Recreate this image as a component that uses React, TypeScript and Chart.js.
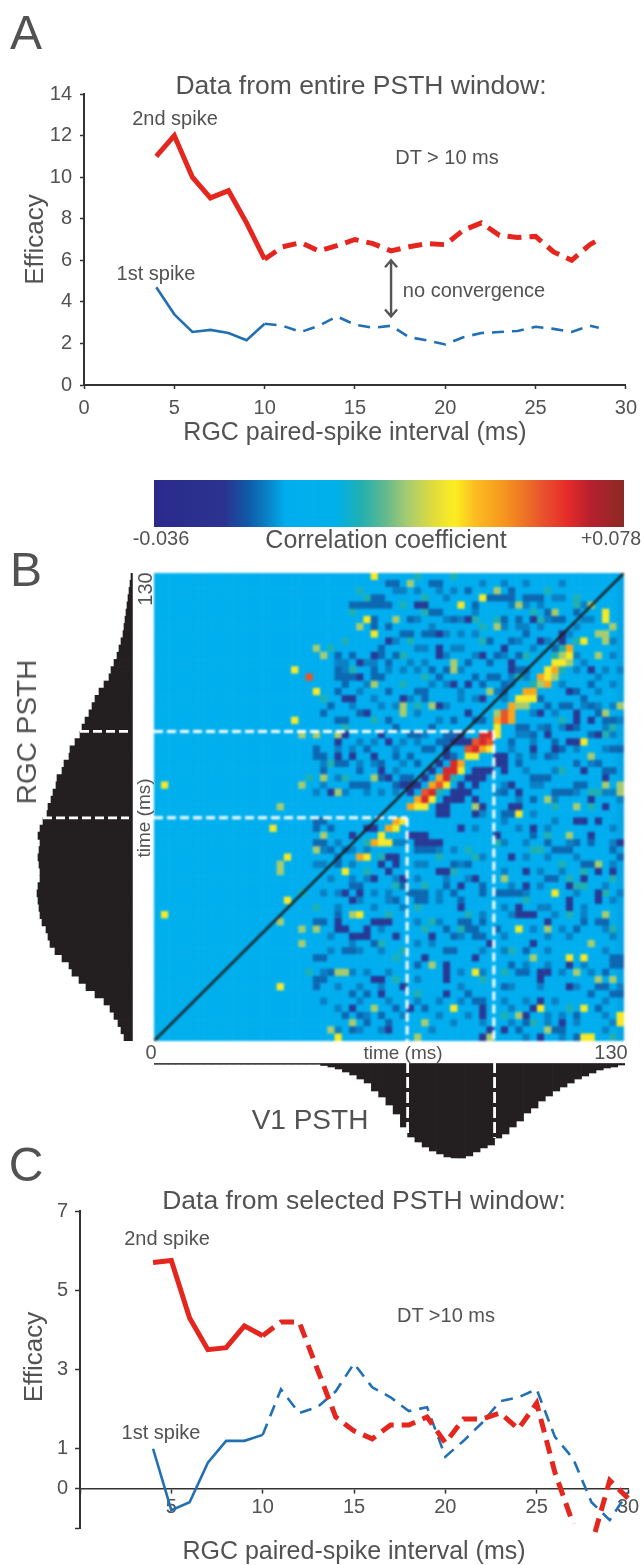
import React, { useEffect, useRef } from "react";
import { Chart, registerables } from "chart.js";

Chart.register(...registerables);

const FONT = "'Liberation Sans', sans-serif";
const TEXT = "#525252";
const AXIS = "#333333";
const RED = "#e4261f";
const BLUE = "#2270b4";
const INK = "#231f20";
Chart.defaults.font.family = FONT;
Chart.defaults.color = TEXT;

// Panel A
const intervalsA = [4, 5, 6, 7, 8, 9, 10, 11, 12, 13, 14, 15, 16, 17, 18, 19, 20, 21, 22, 23, 24, 25, 26, 27, 28, 28.5];
const secondSpikeA = [11, 12, 10, 9, 9.35, 7.8, 6.05, 6.65, 6.85, 6.45, 6.7, 7, 6.8, 6.45, 6.65, 6.8, 6.75, 7.45, 7.8, 7.2, 7.1, 7.15, 6.4, 6, 6.75, 7];
const firstSpikeA = [4.7, 3.4, 2.55, 2.65, 2.5, 2.15, 2.95, 2.85, 2.55, 2.85, 3.3, 2.9, 2.75, 2.85, 2.3, 2.15, 1.95, 2.3, 2.5, 2.55, 2.6, 2.8, 2.7, 2.55, 2.85, 2.75];
const arrowA = { x: 17, from: 3.3, to: 6 };

// Panel C
const intervalsCFirst = [4, 5, 6, 7, 8, 9, 10, 11, 12, 13, 14, 15, 16, 17, 18, 19, 20, 21, 22, 23, 24, 25, 26, 27, 28, 29, 30];
const firstSpikeC = [1, -0.55, -0.35, 0.65, 1.2, 1.2, 1.35, 2.5, 1.9, 2.05, 2.45, 3.15, 2.55, 2.3, 1.95, 2.05, 0.8, 1.2, 1.65, 2.2, 2.3, 2.5, 1.3, 0.75, -0.35, -0.8, -0.1];
const intervalsCSecond = [4, 5, 6, 7, 8, 9, 10, 11, 12, 13, 14, 15, 16, 17, 18, 19, 20, 21, 22, 23, 24, 25, 26, 27, 27.6, 28.2, 29, 30];
const secondSpikeC = [5.7, 5.75, 4.3, 3.5, 3.55, 4.1, 3.85, 4.2, 4.2, 3, 1.8, 1.45, 1.25, 1.6, 1.6, 1.8, 1.15, 1.75, 1.75, 1.9, 1.5, 2.15, 0.4, -0.9, null, -1.1, 0.2, -0.25];
const ticksYC = [-1, 0, 1, 3, 5, 7];

// Colour scale
const scaleMin = -0.036;
const scaleMax = 0.078;
const colourStops: [number, string][] = [
  [0, "#2b2a8c"], [0.15, "#2b3390"], [0.2, "#0f5aa8"], [0.24, "#0a80c4"], [0.28, "#00aeef"], [0.39, "#00b0e8"],
  [0.44, "#20b0b0"], [0.49, "#60b890"], [0.54, "#a8cc70"], [0.6, "#e6de38"], [0.64, "#fcee21"], [0.68, "#fbbf20"],
  [0.75, "#f5921e"], [0.83, "#e8502c"], [0.88, "#e52b2a"], [0.93, "#b5202e"], [1, "#8b2a24"],
];

// Window bounds (ms)
const windowRGC = [62, 86];
const windowV1 = [70, 94];

// PSTHs, 2 ms bins
const rgcTimes = Array.from({ length: 65 }, (_, i) => 129 - i * 2);
const rgcPsth = [1, 2, 3, 4, 5, 6, 7, 8, 9, 11, 13, 15, 18, 21, 23, 28, 33, 37, 40, 43, 47, 50, 52, 57, 62, 63, 68, 70, 75, 76, 79, 81, 84, 85, 89, 92, 94, 92, 93, 94, 93, 92, 92, 94, 95, 94, 93, 92, 90, 86, 84, 82, 77, 70, 63, 60, 53, 46, 37, 28, 22, 18, 14, 11, 8];
const v1Times = Array.from({ length: 65 }, (_, i) => 1 + i * 2);
const v1Psth = [0, 0, 0, 0, 0, 0, 0, 0, 0, 0, 0, 0, 0, 0, 0, 0, 0, 0, 0, 0, 0, 0, 0, 1.5, 3, 5, 8, 11, 15, 19, 27, 33, 41, 50, 63, 73, 78, 83, 87, 90, 93, 94, 94, 92, 88, 84, 81, 74, 70, 63, 57, 49, 44, 37, 32, 27, 23, 19, 15, 12, 9, 6, 4, 3, 1];

// Correlation matrix: 65 x 65 bins, cells read as [column, row from top]
const columnBase = [0, 0, 0, 0, 0, 0, 0, 0, 0, 0, 0, 0, 0, -0.002, -0.003, -0.004, -0.003, -0.004, -0.004, -0.004, -0.004, -0.004, -0.004, -0.004, -0.004, -0.004, -0.004, -0.004, -0.004, -0.004, -0.004, -0.004, -0.004, -0.004, -0.004, -0.004, -0.004, -0.004, -0.004, -0.004, -0.004, -0.004, -0.004, -0.004, -0.004, -0.004, -0.004, -0.004, -0.004, -0.004, -0.004, -0.004, -0.004, -0.004, -0.004, -0.004, -0.004, -0.004, -0.004, -0.004, -0.004, -0.004, -0.004, -0.004, -0.005];

const shadeCells = [[33,2],[34,2],[36,2],[39,2],[40,3],[41,2],[40,6],[42,6],[36,6],[38,7],[40,8],[42,8],[33,9],[36,10],[37,10],[41,10],[25,12],[26,12],[29,12],[35,12],[37,12],[40,11],[42,10],[26,13],[30,12],[32,13],[34,13],[36,13],[42,13],[29,15],[28,16],[38,15],[40,15],[42,16],[30,17],[35,17],[24,18],[27,18],[31,18],[33,18],[40,18],[42,17],[28,19],[36,19],[39,20],[28,23],[30,23],[34,23],[36,23],[37,22],[25,24],[27,24],[33,24],[23,26],[28,26],[30,26],[34,26],[36,26],[25,28],[28,27],[33,27],[23,29],[22,30],[26,30],[29,30],[31,30],[33,30],[45,1],[48,1],[51,1],[56,1],[45,3],[55,3],[56,3],[59,4],[49,4],[51,4],[53,4],[44,5],[50,7],[54,6],[59,6],[48,7],[51,7],[53,7],[58,7],[60,6],[44,8],[50,9],[54,9],[57,8],[63,9],[44,11],[48,11],[52,10],[58,11],[59,12],[63,11],[49,14],[51,14],[58,13],[62,13],[64,13],[56,15],[61,14],[47,16],[49,15],[61,16],[63,15],[44,17],[48,17],[53,17],[59,18],[63,18],[52,19],[55,19],[61,18],[62,21],[51,22],[53,21],[56,21],[64,20],[50,22],[52,23],[63,22],[55,25],[58,24],[49,24],[62,24],[50,25],[52,25],[54,25],[60,26],[53,29],[55,27],[51,27],[48,29],[52,29],[58,30],[62,30],[63,30],[47,30],[50,31],[55,31],[64,31],[23,38],[25,37],[27,38],[29,38],[34,37],[33,37],[39,38],[41,38],[22,40],[23,40],[27,40],[36,40],[37,40],[42,40],[24,42],[27,42],[29,42],[33,42],[36,42],[40,42],[43,42],[23,44],[25,44],[30,44],[32,44],[39,44],[25,46],[28,45],[30,46],[32,45],[34,46],[39,45],[36,48],[24,50],[39,48],[31,49],[27,51],[36,51],[42,50],[24,52],[28,52],[31,52],[38,51],[23,55],[27,55],[29,55],[32,55],[42,55],[25,57],[28,57],[31,57],[36,56],[42,57],[23,59],[25,60],[28,59],[32,59],[36,59],[39,59],[42,59],[29,61],[39,61],[34,61],[25,63],[28,63],[31,63],[38,63],[41,62],[43,61],[45,33],[52,33],[55,34],[48,34],[50,35],[54,35],[63,35],[44,35],[48,37],[51,37],[57,37],[63,37],[45,39],[51,39],[54,39],[58,39],[48,41],[53,41],[56,41],[63,40],[49,43],[53,43],[62,43],[51,44],[58,44],[64,44],[48,46],[53,46],[54,46],[59,46],[63,45],[45,47],[49,47],[55,47],[59,47],[52,49],[56,49],[62,49],[48,50],[54,50],[57,50],[63,50],[45,52],[48,52],[54,52],[62,52],[51,54],[54,54],[59,54],[45,55],[56,55],[60,55],[49,57],[53,57],[58,57],[64,57],[48,59],[51,59],[55,59],[62,59],[49,60],[54,61],[56,61],[62,61],[45,62],[49,62],[54,62],[58,62],[63,62],[51,64],[56,64],[62,63]];
const mediumCells = [[33,1],[32,1],[38,1],[39,1],[43,2],[27,4],[28,4],[29,4],[30,4],[31,4],[32,4],[29,3],[30,3],[31,3],[38,5],[39,5],[41,6],[35,6],[30,6],[32,7],[30,7],[34,8],[35,8],[37,8],[38,8],[31,10],[31,11],[32,12],[33,11],[25,11],[27,11],[25,13],[26,14],[25,14],[27,14],[26,15],[25,16],[38,13],[40,13],[39,14],[37,16],[37,17],[36,16],[43,12],[32,16],[31,14],[30,14],[30,13],[23,19],[25,20],[26,20],[32,20],[41,20],[41,22],[40,22],[36,22],[35,22],[39,23],[40,23],[37,24],[38,24],[22,24],[22,25],[23,25],[25,26],[26,26],[31,26],[23,27],[31,28],[34,28],[35,28],[27,29],[28,29],[29,29],[33,29],[44,4],[46,3],[47,3],[48,3],[49,2],[49,3],[51,3],[52,3],[53,3],[54,5],[48,6],[50,6],[55,6],[56,6],[58,5],[49,9],[50,11],[47,11],[46,12],[50,13],[51,13],[44,14],[46,14],[47,14],[45,15],[48,15],[58,16],[60,15],[54,18],[56,18],[57,18],[60,18],[44,20],[45,20],[50,21],[51,21],[54,21],[58,21],[62,20],[55,23],[56,24],[63,24],[64,24],[49,23],[50,26],[61,26],[53,28],[54,28],[55,30],[56,30],[62,27],[58,29],[59,29],[52,31],[22,34],[23,34],[22,35],[24,35],[23,37],[24,38],[22,37],[25,39],[25,40],[26,38],[36,38],[37,38],[38,38],[41,40],[39,39],[36,44],[35,44],[37,44],[34,43],[33,45],[27,43],[28,43],[23,48],[22,48],[25,47],[30,51],[26,52],[27,52],[36,54],[41,52],[40,52],[22,53],[23,53],[24,55],[22,56],[23,56],[22,57],[27,58],[29,58],[36,58],[43,58],[37,60],[26,61],[31,61],[32,62],[33,60],[28,61],[27,63],[29,62],[48,33],[49,33],[58,37],[60,37],[52,36],[54,37],[55,38],[56,38],[57,38],[59,40],[60,40],[47,44],[48,44],[49,44],[50,44],[45,43],[45,44],[54,42],[55,42],[63,38],[64,39],[44,49],[45,48],[44,50],[45,50],[59,48],[58,49],[61,48],[62,48],[47,49],[51,52],[63,53],[64,53],[63,54],[64,54],[62,55],[49,54],[50,55],[51,55],[48,57],[61,57],[62,57],[44,59],[45,59],[60,58],[63,58],[64,58],[51,62],[61,60],[58,61],[58,64],[55,63],[56,63],[50,63],[43,40],[40,43],[41,44],[42,45],[36,45],[37,45],[43,48],[42,48],[40,49],[41,50],[43,49],[24,18],[28,19],[33,21],[38,21],[29,24],[33,25],[36,26],[41,25],[28,27],[35,25],[46,9],[51,8],[55,10],[48,16],[53,17],[59,17],[61,19],[52,22],[60,22],[63,20],[54,25],[58,26],[63,27],[52,28],[57,30],[48,30]];
const navyCells = [[37,4],[36,4],[39,8],[39,10],[39,11],[32,9],[30,11],[28,12],[28,14],[41,15],[43,6],[27,17],[26,17],[29,19],[39,18],[34,17],[32,23],[31,22],[27,25],[30,25],[31,27],[32,28],[24,30],[25,25],[25,23],[26,22],[43,15],[43,19],[39,26],[38,27],[37,28],[36,29],[35,30],[34,29],[35,29],[40,24],[40,25],[41,23],[42,22],[43,23],[42,23],[42,29],[43,28],[41,30],[42,30],[40,31],[41,31],[43,30],[42,31],[48,10],[45,11],[53,9],[56,8],[56,9],[52,6],[49,12],[49,13],[60,13],[57,16],[45,17],[53,19],[58,19],[58,20],[60,20],[54,22],[57,21],[61,22],[57,23],[58,23],[52,24],[55,24],[47,25],[48,25],[47,26],[48,26],[48,27],[45,27],[46,27],[45,28],[44,29],[49,29],[50,30],[59,27],[44,31],[60,31],[49,32],[50,32],[45,32],[62,28],[44,27],[44,28],[37,36],[36,36],[37,37],[36,37],[38,37],[39,37],[35,36],[40,32],[39,32],[40,33],[39,33],[42,35],[29,35],[30,35],[27,36],[33,39],[32,39],[33,40],[31,40],[32,41],[34,42],[30,42],[39,41],[40,41],[37,43],[42,43],[28,44],[26,44],[27,45],[42,46],[25,48],[26,49],[25,49],[27,50],[28,50],[29,49],[29,50],[30,48],[31,48],[32,48],[33,50],[38,50],[37,53],[38,54],[40,54],[40,55],[40,56],[34,57],[31,58],[40,58],[27,60],[35,60],[32,63],[30,56],[31,56],[44,33],[58,34],[59,34],[61,34],[52,35],[60,36],[47,36],[64,37],[49,39],[51,41],[61,41],[63,41],[44,42],[59,42],[51,43],[57,43],[61,44],[61,45],[57,45],[57,46],[50,46],[50,47],[51,47],[52,47],[54,48],[46,51],[52,51],[44,53],[57,54],[53,55],[54,55],[53,56],[57,57],[45,60],[45,61],[53,59],[52,60],[48,63],[46,63],[53,64],[45,64],[56,62],[51,61],[62,32]];
const tealCells = [[36,0],[41,0],[28,2],[29,3],[37,3],[27,5],[37,5],[26,9],[24,10],[35,9],[27,13],[34,4],[34,11],[37,14],[36,18],[23,17],[30,20],[26,21],[24,26],[26,28],[21,28],[34,15],[53,6],[52,5],[58,3],[58,4],[54,2],[45,7],[45,9],[50,14],[51,11],[47,6],[56,20],[63,21],[62,22],[56,27],[60,32],[60,30],[61,30],[44,6],[33,43],[36,58],[33,56],[33,53],[38,48],[42,49],[43,47],[36,46],[31,39],[39,39],[34,52],[31,51],[32,47],[37,49],[41,41],[43,38],[20,44],[22,46],[21,55],[37,43],[29,41],[53,38],[52,38],[44,39],[54,36],[57,42],[58,43],[59,43],[57,47],[51,45],[63,49],[49,52],[48,55],[45,56],[57,60],[48,61],[52,62],[56,40],[59,41],[63,42],[62,44],[47,37],[55,32],[63,64],[29,37],[47,19],[58,9],[56,10],[55,11],[56,13],[52,15],[39,30],[41,28]];
const greenCells = [[35,1],[28,7],[33,6],[22,10],[23,11],[30,15],[38,18],[34,18],[34,19],[41,13],[41,12],[20,22],[22,22],[25,22],[19,20],[23,28],[20,29],[25,30],[30,28],[47,2],[50,4],[55,5],[47,7],[60,4],[63,7],[61,8],[62,8],[62,9],[61,11],[46,16],[64,18],[62,19],[60,25],[62,29],[64,30],[54,31],[44,32],[64,29],[56,11],[55,14],[57,12],[23,36],[22,38],[17,32],[17,41],[17,40],[18,45],[17,48],[20,49],[27,47],[22,49],[20,51],[25,55],[26,55],[30,60],[27,62],[24,63],[37,62],[38,54],[36,64],[57,36],[61,40],[62,47],[54,49],[52,53],[48,42],[61,56],[63,56],[58,55],[54,63],[46,64],[58,32],[60,51],[50,61],[50,18],[51,18],[53,15],[47,19]];
const yellowCells = [[30,0],[42,4],[29,6],[30,8],[22,16],[1,29],[1,47],[16,35],[18,39],[19,13],[19,20],[18,45],[17,57],[45,3],[62,5],[62,6],[59,9],[57,11],[55,12],[56,12],[54,13],[54,14],[50,17],[51,17],[52,17],[47,21],[47,22],[46,24],[44,25],[43,25],[42,27],[40,29],[38,31],[36,32],[37,32],[34,34],[33,35],[31,36],[31,37],[32,37],[29,39],[26,41],[28,47],[59,23],[50,33],[55,44],[50,49],[57,53],[59,53],[44,55],[59,60],[53,60],[64,61],[64,62],[59,64],[60,64],[41,60],[25,64]];
const orangeCells = [[57,10],[53,14],[55,13],[54,15],[51,16],[52,16],[49,18],[49,19],[47,20],[49,20],[45,24],[42,26],[39,28],[38,29],[36,31],[35,32],[33,34],[32,35],[30,37],[28,39]];
const redCells = [[21,14],[48,19],[48,20],[44,23],[46,23],[43,24],[39,29],[37,30]];
const deepRedCells = [[45,22],[46,22],[45,23],[44,24],[41,26],[40,27],[41,27],[40,28],[38,30],[37,31]];
const cellLevels: [number[][], number][] = [
  [shadeCells, -0.0085], [mediumCells, -0.0115], [navyCells, -0.018], [tealCells, 0.014], [greenCells, 0.0255],
  [yellowCells, 0.0355], [orangeCells, 0.046], [redCells, 0.058], [deepRedCells, 0.066],
];

function colourAt(value: number) {
  const p = Math.max(0, Math.min(1, (value - scaleMin) / (scaleMax - scaleMin)));
  for (let i = 1; i < colourStops.length; i++) {
    const [p1, c1] = colourStops[i];
    const [p0, c0] = colourStops[i - 1];
    if (p <= p1) {
      const t = (p - p0) / (p1 - p0);
      const mix = [1, 3, 5].map((k) => {
        const a = parseInt(c0.slice(k, k + 2), 16);
        const b = parseInt(c1.slice(k, k + 2), 16);
        return Math.round(a + (b - a) * t);
      });
      return `rgb(${mix.join(",")})`;
    }
  }
  return colourStops[colourStops.length - 1][1];
}

function buildCells() {
  const grid = Array.from({ length: 65 }, () => columnBase.slice());
  cellLevels.forEach(([list, v]) => list.forEach(([c, r]) => { grid[r][c] = v; }));
  const points: { x: number; y: number }[] = [];
  const colours: string[] = [];
  grid.forEach((row, r) => row.forEach((v, c) => {
    points.push({ x: c * 2 + 1, y: (64 - r) * 2 + 1 });
    colours.push(colourAt(v));
  }));
  return { points, colours };
}

const zip = (xs: number[], ys: (number | null)[]) => xs.map((x, i) => ({ x, y: ys[i] }));

function spikeLine(xs: number[], ys: (number | null)[], colour: string, width: number, dash: number[]) {
  return {
    data: zip(xs, ys),
    borderColor: colour,
    borderWidth: width,
    pointRadius: 0,
    borderJoinStyle: "miter",
    clip: 10,
    spanGaps: false,
    tension: 0,
    borderDash: [],
    segment: { borderDash: (ctx: any) => (ctx.p0.parsed.x >= 10 ? dash : undefined) },
  };
}

const fixWidth = (w: number) => (s: any) => { s.width = w; };
const fixHeight = (h: number) => (s: any) => { s.height = h; };
const base = {
  responsive: false,
  animation: false,
  events: [],
  plugins: { legend: { display: false }, tooltip: { enabled: false }, title: { display: false } },
};

const arrowPlugin = {
  id: "arrowA",
  afterDatasetsDraw(chart: any) {
    const { ctx, scales } = chart;
    const x = scales.x.getPixelForValue(arrowA.x);
    const a = scales.y.getPixelForValue(arrowA.from);
    const b = scales.y.getPixelForValue(arrowA.to);
    ctx.save();
    ctx.strokeStyle = "#555555";
    ctx.lineWidth = 2.4;
    ctx.beginPath();
    ctx.moveTo(x, a);
    ctx.lineTo(x, b);
    ctx.moveTo(x - 6, b + 7);
    ctx.lineTo(x, b);
    ctx.lineTo(x + 6, b + 7);
    ctx.moveTo(x - 6, a - 7);
    ctx.lineTo(x, a);
    ctx.lineTo(x + 6, a - 7);
    ctx.stroke();
    ctx.restore();
  },
};

const panelA = () => ({
  type: "line",
  data: {
    datasets: [
      spikeLine(intervalsA, secondSpikeA, RED, 5, [14, 8]),
      spikeLine(intervalsA, firstSpikeA, BLUE, 2.6, [12, 8]),
    ],
  },
  options: {
    ...base,
    layout: { autoPadding: false, padding: { left: 0, right: 16.5, top: 94, bottom: 0 } },
    scales: {
      x: {
        type: "linear", min: 0, max: 30,
        afterFit: fixHeight(75),
        border: { color: AXIS, width: 2 },
        grid: { drawOnChartArea: false, tickLength: 4, tickColor: AXIS, tickWidth: 1.5 },
        ticks: { stepSize: 5, padding: 7, maxRotation: 0, font: { size: 20 }, color: TEXT },
        title: { display: true, text: "RGC paired-spike interval (ms)", font: { size: 25 }, color: TEXT, padding: { top: 0, bottom: 12 } },
      },
      y: {
        min: 0, max: 14,
        afterFit: fixWidth(84),
        border: { color: AXIS, width: 2 },
        grid: { drawOnChartArea: false, tickLength: 4, tickColor: AXIS, tickWidth: 1.5 },
        ticks: { stepSize: 2, padding: 8, font: { size: 20 }, color: TEXT },
        title: { display: true, text: "Efficacy", font: { size: 26 }, color: TEXT, padding: { top: 20, bottom: 0 } },
      },
    },
  },
  plugins: [arrowPlugin],
});

const panelC = () => ({
  type: "line",
  data: {
    datasets: [
      spikeLine(intervalsCSecond, secondSpikeC, RED, 5, [14, 8]),
      spikeLine(intervalsCFirst, firstSpikeC, BLUE, 2.6, [12, 8]),
    ],
  },
  options: {
    ...base,
    layout: { autoPadding: false, padding: { left: 0, right: 16, top: 31, bottom: 0 } },
    scales: {
      x: {
        type: "linear", min: 0, max: 30,
        afterFit: fixHeight(37),
        border: { display: false },
        grid: { display: false, drawTicks: false },
        ticks: { display: false },
        title: { display: true, text: "RGC paired-spike interval (ms)", font: { size: 25, lineHeight: 1 }, color: TEXT, padding: { top: 0, bottom: 0.5 } },
      },
      xZero: {
        type: "linear", axis: "x", min: 0, max: 30,
        position: { y: 0 },
        afterFit: fixHeight(0),
        border: { color: AXIS, width: 1.6 },
        grid: { drawOnChartArea: false, tickLength: 4, tickColor: AXIS, tickWidth: 1.5 },
        ticks: { stepSize: 5, padding: 3, maxRotation: 0, font: { size: 20 }, color: TEXT, callback: (v: number) => (v === 0 ? "" : String(v)) },
      },
      y: {
        min: -1, max: 7,
        afterFit: fixWidth(80),
        afterBuildTicks: (s: any) => { s.ticks = ticksYC.map((value) => ({ value })); },
        border: { color: AXIS, width: 2 },
        grid: { drawOnChartArea: false, tickLength: 5, tickColor: AXIS, tickWidth: 1.5 },
        ticks: { padding: 7, font: { size: 20 }, color: TEXT, callback: (v: number) => (v === -1 ? "" : String(v)) },
      },
    },
  },
});

const colourBar = () => ({
  type: "bar",
  data: {
    labels: ["Correlation coefficient"],
    datasets: [{
      data: [[scaleMin, scaleMax]],
      barPercentage: 1,
      categoryPercentage: 1,
      backgroundColor: (ctx: any) => {
        const { chartArea, ctx: c } = ctx.chart;
        if (!chartArea) return "#00aeef";
        const g = c.createLinearGradient(chartArea.left, 0, chartArea.right, 0);
        colourStops.forEach(([p, col]) => g.addColorStop(p, col));
        return g;
      },
    }],
  },
  options: {
    ...base,
    indexAxis: "y",
    layout: { autoPadding: false },
    scales: {
      x: { type: "linear", min: scaleMin, max: scaleMax, display: false },
      y: { display: false },
    },
  },
});

const guide = (pts: number[][]) => ({
  data: pts.map(([x, y]) => ({ x, y })),
  showLine: true,
  borderColor: "#ffffff",
  borderWidth: 3,
  borderDash: [9, 4],
  pointRadius: 0,
});

const heatmap = () => {
  const { points, colours } = buildCells();
  return {
    type: "scatter",
    data: {
      datasets: [
        { data: [{ x: 0, y: 0 }, { x: 130, y: 130 }], showLine: true, borderColor: "#1c1c1c", borderWidth: 2.4, pointRadius: 0 },
        guide([[0, windowRGC[1]], [windowV1[1], windowRGC[1]]]),
        guide([[0, windowRGC[0]], [windowV1[0], windowRGC[0]]]),
        guide([[windowV1[1], windowRGC[1]], [windowV1[1], 0]]),
        guide([[windowV1[0], windowRGC[0]], [windowV1[0], 0]]),
        { data: points, pointStyle: "rect", pointRadius: 5.5, pointBorderWidth: 0, pointBackgroundColor: colours },
      ],
    },
    options: {
      ...base,
      layout: { autoPadding: false },
      scales: {
        x: { type: "linear", min: 0, max: 130, display: false },
        y: { type: "linear", min: 0, max: 130, display: false },
      },
    },
  };
};

const rgcGuides = {
  id: "rgcGuides",
  afterDatasetsDraw(chart: any) {
    const { ctx, scales } = chart;
    ctx.save();
    ctx.strokeStyle = "#ffffff";
    ctx.lineWidth = 2.8;
    ctx.setLineDash([9, 4]);
    windowRGC.forEach((t) => {
      const i = rgcTimes.findIndex((v) => v < t + 1);
      const y = scales.y.getPixelForValue((130 - t) / 2 - 0.5);
      ctx.beginPath();
      ctx.moveTo(scales.x.getPixelForValue(rgcPsth[i]), y);
      ctx.lineTo(scales.x.getPixelForValue(0) - 3, y);
      ctx.stroke();
    });
    ctx.restore();
  },
};

const rgcChart = () => ({
  type: "bar",
  data: {
    labels: rgcTimes,
    datasets: [{ data: rgcPsth, backgroundColor: INK, barPercentage: 1, categoryPercentage: 1 }],
  },
  options: {
    ...base,
    indexAxis: "y",
    layout: { autoPadding: false, padding: { left: 32, right: 1, top: 0, bottom: 0 } },
    scales: {
      x: { type: "linear", min: 0, max: 100, reverse: true, display: false },
      y: {
        type: "category", position: "right", offset: true,
        afterFit: fixWidth(0),
        border: { color: "#555555", width: 1 },
        grid: { display: false, drawTicks: false },
        ticks: { display: false },
      },
    },
  },
  plugins: [rgcGuides],
});

const v1Guides = {
  id: "v1Guides",
  afterDatasetsDraw(chart: any) {
    const { ctx, scales } = chart;
    ctx.save();
    ctx.strokeStyle = "#ffffff";
    ctx.lineWidth = 2.8;
    ctx.setLineDash([11, 4]);
    windowV1.forEach((t) => {
      const i = v1Times.findIndex((v) => v > t - 1);
      const x = scales.x.getPixelForValue(t / 2 - 0.5);
      ctx.beginPath();
      ctx.moveTo(x, scales.y.getPixelForValue(0) - 2);
      ctx.lineTo(x, scales.y.getPixelForValue(v1Psth[i]));
      ctx.stroke();
    });
    ctx.restore();
  },
};

const v1Chart = () => ({
  type: "bar",
  data: {
    labels: v1Times,
    datasets: [{ data: v1Psth, backgroundColor: INK, barPercentage: 1, categoryPercentage: 1 }],
  },
  options: {
    ...base,
    layout: { autoPadding: false, padding: { left: 0, right: 0, top: 1, bottom: 0 } },
    scales: {
      x: {
        type: "category", position: "top", offset: true,
        afterFit: fixHeight(0),
        border: { color: "#444444", width: 1.6 },
        grid: { display: false, drawTicks: false },
        ticks: { display: false },
      },
      y: { type: "linear", min: 0, max: 100, reverse: true, display: false },
    },
  },
  plugins: [v1Guides],
});

function Plot({ make, left, top, width, height, soft = 0 }: any) {
  const ref = useRef<HTMLCanvasElement>(null);
  useEffect(() => {
    const chart = new Chart(ref.current as HTMLCanvasElement, make());
    return () => chart.destroy();
  }, []);
  return <canvas ref={ref} width={width} height={height} style={{ position: "absolute", left, top, width, height, display: "block", filter: soft ? `blur(${soft}px)` : undefined }} />;
}

function Note({ x, y, size, rotate = 0, children }: any) {
  return (
    <span style={{
      position: "absolute", left: x, top: y, whiteSpace: "nowrap", fontFamily: FONT, fontSize: size,
      color: TEXT, lineHeight: 1, transform: `translate(-50%,-50%) rotate(${rotate}deg)`,
    }}>{children}</span>
  );
}

export default function App() {
  return (
    <div style={{ position: "absolute", left: 0, top: 0, width: 644, height: 1565, overflow: "hidden", background: "#fff", filter: "blur(0.4px)" }}>
      <Plot make={panelA} left={0} top={0} width={644} height={460} />
      <Plot make={colourBar} left={154} top={480} width={470} height={47} />
      <Plot make={rgcChart} left={0} top={573} width={133} height={468} />
      <Plot make={heatmap} left={154} top={573} width={470} height={468} soft={0.9} />
      <Plot make={v1Chart} left={154} top={1063} width={471} height={101} />
      <Plot make={panelC} left={0} top={1180} width={644} height={385} />

      <Note x={26} y={33} size={48}>A</Note>
      <Note x={26} y={570} size={48}>B</Note>
      <Note x={26} y={1165} size={48}>C</Note>

      <Note x={361} y={85} size={26.5}>Data from entire PSTH window:</Note>
      <Note x={175} y={118} size={20}>2nd spike</Note>
      <Note x={156} y={273} size={20}>1st spike</Note>
      <Note x={447} y={157} size={20}>DT &gt; 10 ms</Note>
      <Note x={474} y={290} size={20}>no convergence</Note>

      <Note x={161} y={538} size={20}>-0.036</Note>
      <Note x={386} y={539} size={25}>Correlation coefficient</Note>
      <Note x={611} y={539} size={19.5}>+0.078</Note>

      <Note x={27} y={732} size={28} rotate={-90}>RGC PSTH</Note>
      <Note x={145} y={589} size={20} rotate={-90}>130</Note>
      <Note x={143} y={818} size={19} rotate={-90}>time (ms)</Note>
      <Note x={151} y={1052} size={20}>0</Note>
      <Note x={403} y={1052} size={19}>time (ms)</Note>
      <Note x={611} y={1052} size={20}>130</Note>
      <Note x={310} y={1120} size={28}>V1 PSTH</Note>

      <Note x={364} y={1200} size={26.5}>Data from selected PSTH window:</Note>
      <Note x={167} y={1238} size={20}>2nd spike</Note>
      <Note x={161} y={1432} size={20}>1st spike</Note>
      <Note x={446} y={1315} size={20}>DT &gt;10 ms</Note>
      <Note x={33} y={1357} size={26} rotate={-90}>Efficacy</Note>
    </div>
  );
}
